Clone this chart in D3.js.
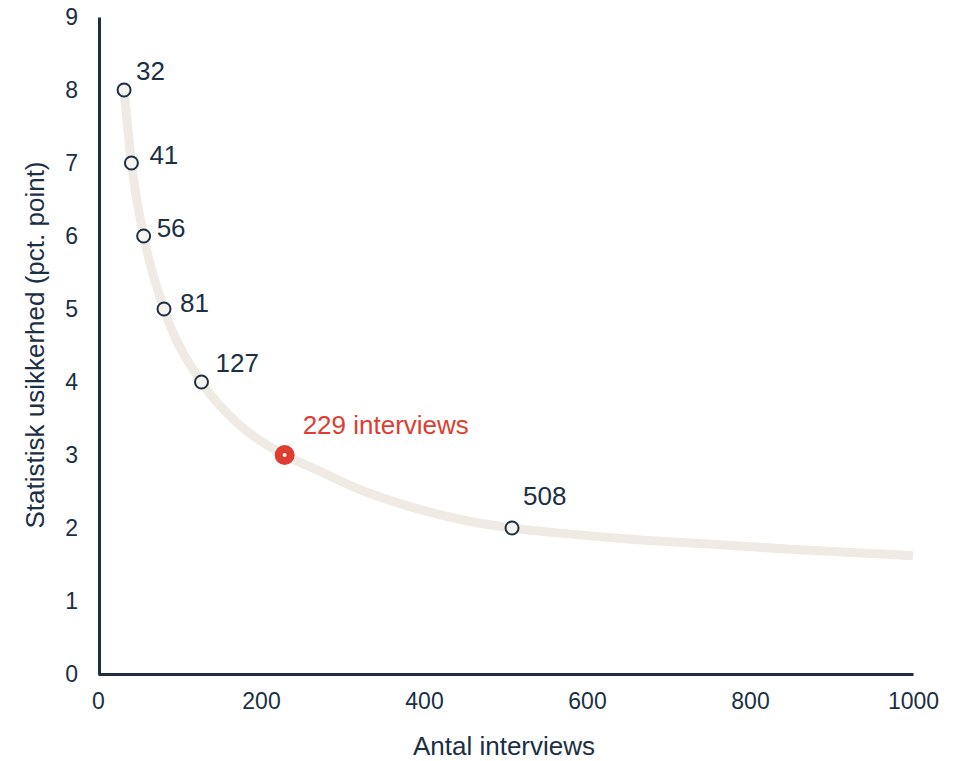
<!DOCTYPE html>
<html>
<head>
<meta charset="utf-8">
<script src="https://cdn.jsdelivr.net/npm/d3@7"></script>
<style>
  body { margin: 0; background: #fff; }
  svg text { font-family: "Liberation Sans", Arial, sans-serif; }
</style>
</head>
<body>
<script>
// curve
const curveN = [32, 41, 56, 81, 127, 170, 229, 264, 325, 387, 448, 508, 567, 650, 750, 850, 1000];
const curveErr = [8, 7, 6, 5, 4, 3.45, 3, 2.82, 2.51, 2.28, 2.11, 2, 1.93, 1.85, 1.78, 1.71, 1.62];

// marked points
const pointN = [32, 41, 56, 81, 127, 508];
const pointErr = [8, 7, 6, 5, 4, 2];
const highlightN = 229;
const highlightErr = 3;
const highlightLabel = "229 interviews";

const xTicks = [0, 200, 400, 600, 800, 1000];
const yTicks = [0, 1, 2, 3, 4, 5, 6, 7, 8, 9];

// label offsets from each point (layout only), baseline position
const labelDx = [12, 18, 13, 16, 14, 11];
const labelDy = [-10, 1, 1, 3, -10, -23];

const navy = "#1b2f45";
const red = "#e03c31";

const svg = d3.select("body").append("svg")
    .attr("width", 958)
    .attr("height", 761);

const x = d3.scaleLinear().domain([0, 1000]).range([98, 913]);
const y = d3.scaleLinear().domain([0, 9]).range([674, 17]);

//axes
const xAxis = svg.append("g")
    .attr("transform", "translate(0,674)")
    .call(d3.axisBottom(x).tickValues(xTicks).tickFormat(d3.format("d")).tickSize(0).tickPadding(19));
xAxis.attr("font-family", null);
xAxis.select(".domain").attr("stroke", navy).attr("stroke-width", 3);
xAxis.selectAll("text").attr("fill", navy).attr("font-size", 23);

const yAxis = svg.append("g")
    .attr("transform", "translate(99,0)")
    .call(d3.axisLeft(y).tickValues(yTicks).tickSize(0).tickPadding(21));
yAxis.attr("font-family", null);
yAxis.select(".domain").attr("stroke", navy).attr("stroke-width", 3);
yAxis.selectAll("text").attr("fill", navy).attr("font-size", 23);

svg.append("text")
    .attr("x", 504).attr("y", 755)
    .attr("text-anchor", "middle")
    .attr("fill", navy).attr("font-size", 26)
    .text("Antal interviews");

svg.append("text")
    .attr("transform", "translate(44,345) rotate(-90)")
    .attr("text-anchor", "middle")
    .attr("fill", navy).attr("font-size", 26)
    .text("Statistisk usikkerhed (pct. point)");

//curve
const line = d3.line()
    .x(d => x(d))
    .y((d, i) => y(curveErr[i]))
    .curve(d3.curveMonotoneX);

svg.append("path")
    .attr("d", line(curveN))
    .attr("fill", "none")
    .attr("stroke", "#efebe4")
    .attr("stroke-width", 9);

//points
svg.selectAll("circle.pt")
    .data(pointN)
    .enter()
    .append("circle")
    .attr("class", "pt")
    .attr("cx", d => x(d))
    .attr("cy", (d, i) => y(pointErr[i]))
    .attr("r", 6.5)
    .attr("fill", "#f6f3ee")
    .attr("stroke", navy)
    .attr("stroke-width", 2);

svg.selectAll("text.lbl")
    .data(pointN)
    .enter()
    .append("text")
    .attr("class", "lbl")
    .attr("x", (d, i) => x(d) + labelDx[i])
    .attr("y", (d, i) => y(pointErr[i]) + labelDy[i])
    .attr("fill", navy)
    .attr("font-size", 26)
    .text(d => d);

//highlight
svg.append("circle")
    .attr("cx", x(highlightN)).attr("cy", y(highlightErr))
    .attr("r", 10).attr("fill", red);
svg.append("circle")
    .attr("cx", x(highlightN)).attr("cy", y(highlightErr))
    .attr("r", 2).attr("fill", "#f6f3ee");
svg.append("text")
    .attr("x", x(highlightN) + 18)
    .attr("y", y(highlightErr) - 21)
    .attr("fill", red)
    .attr("font-size", 26)
    .text(highlightLabel);
</script>
</body>
</html>
